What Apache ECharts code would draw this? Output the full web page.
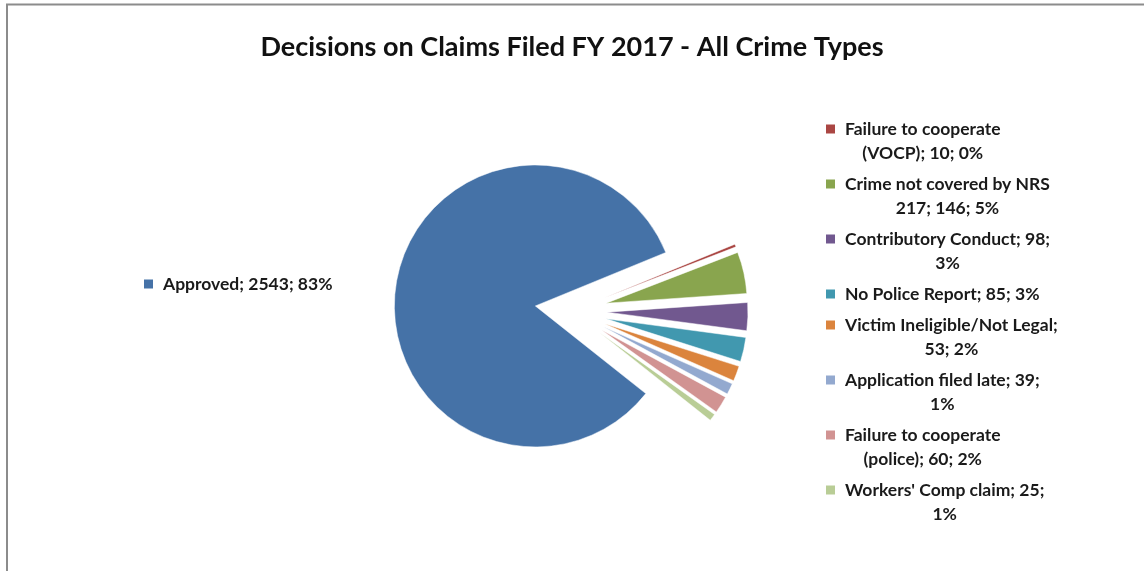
<!DOCTYPE html>
<html>
<head>
<meta charset="utf-8">
<script src="https://cdn.jsdelivr.net/npm/echarts@6/dist/echarts.min.js"></script>
<style>
html,body{margin:0;padding:0;background:#fff;}
#chart{width:1144px;height:571px;}
</style>
</head>
<body>
<div id="chart"></div>
<script>
// ---- data ----
const categories = [
  "Failure to cooperate (VOCP)",
  "Crime not covered by NRS 217",
  "Contributory Conduct",
  "No Police Report",
  "Victim Ineligible/Not Legal",
  "Application filed late",
  "Failure to cooperate (police)",
  "Workers' Comp claim",
  "Approved"
];
const values = [10, 146, 98, 85, 53, 39, 60, 25, 2543];
const percentLabels = ["0%", "5%", "3%", "3%", "2%", "1%", "2%", "1%", "83%"];
const colors = ["#AA4643", "#89A54E", "#71588F", "#4198AF", "#DB843D", "#93A9CF", "#D19392", "#B9CD96", "#4572A7"];
// words on first label line (label wrapping as in the reference)
const firstLineWords = [3, 5, 3, 6, 3, 4, 3, 4, 5];

const FONT = 'Lato';
function labelLines(i) {
  const words = (categories[i] + '; ' + values[i] + '; ' + percentLabels[i]).split(' ');
  const n = firstLineWords[i];
  return [words.slice(0, n).join(' '), words.slice(n).join(' ')];
}
function fmt(i) {
  const [l1, l2] = labelLines(i);
  let s = '{sq' + i + '|}{gap|}{t|' + l1 + '}';
  if (l2) s += '\n{pad|}{gap|}{t|' + l2 + '}';
  return s;
}

const rich = {
  gap: {width: 10, height: 1},
  pad: {width: 9, height: 1},
  t: {fontFamily: FONT, fontWeight: 'bold', fontSize: 17.5, color: '#1a1a1a', align: 'center', lineHeight: 24}
};
colors.forEach((c, i) => { rich['sq' + i] = {backgroundColor: c, width: 9, height: 9, align: 'left'}; });

const chart = echarts.init(document.getElementById('chart'), null, {renderer: 'canvas'});
const idx = {};
categories.forEach((c, i) => idx[c] = i);

const legendBase = {
  orient: 'vertical',
  icon: 'rect',
  itemWidth: 0,
  itemHeight: 0,
  selectedMode: false,
  formatter: name => fmt(idx[name]),
  textStyle: {rich: rich, fontFamily: FONT, fontSize: 17.5, lineHeight: 24}
};

chart.setOption({
  animation: false,
  color: colors,
  title: {
    text: 'Decisions on Claims Filed FY 2017 - All Crime Types',
    left: 'center',
    top: 29,
    textStyle: {fontFamily: FONT, fontWeight: 'bold', fontSize: 27, color: '#111'}
  },
  graphic: [
    {type: 'line', shape: {x1: 6, y1: 4.5, x2: 1144, y2: 4.5}, style: {stroke: '#8c8c8c', lineWidth: 2}},
    {type: 'line', shape: {x1: 7, y1: 4, x2: 7, y2: 571}, style: {stroke: '#8c8c8c', lineWidth: 2}}
  ],
  legend: [
    Object.assign({}, legendBase, {data: categories.slice(0, 8), left: 815, top: 112, itemGap: 7}),
    Object.assign({}, legendBase, {data: ['Approved'], left: 133, top: 267})
  ],
  series: [{
    type: 'pie',
    center: [571, 311],
    radius: 141,
    startAngle: 22.3,
    clockwise: true,
    selectedMode: 'multiple',
    selectedOffset: 36,
    avoidLabelOverlap: false,
    label: {show: false},
    labelLine: {show: false},
    emphasis: {disabled: true},
    itemStyle: {borderColor: '#fff', borderWidth: 0.5},
    data: categories.map((c, i) => ({name: c, value: values[i], selected: true}))
  }]
});
</script>
</body>
</html>
